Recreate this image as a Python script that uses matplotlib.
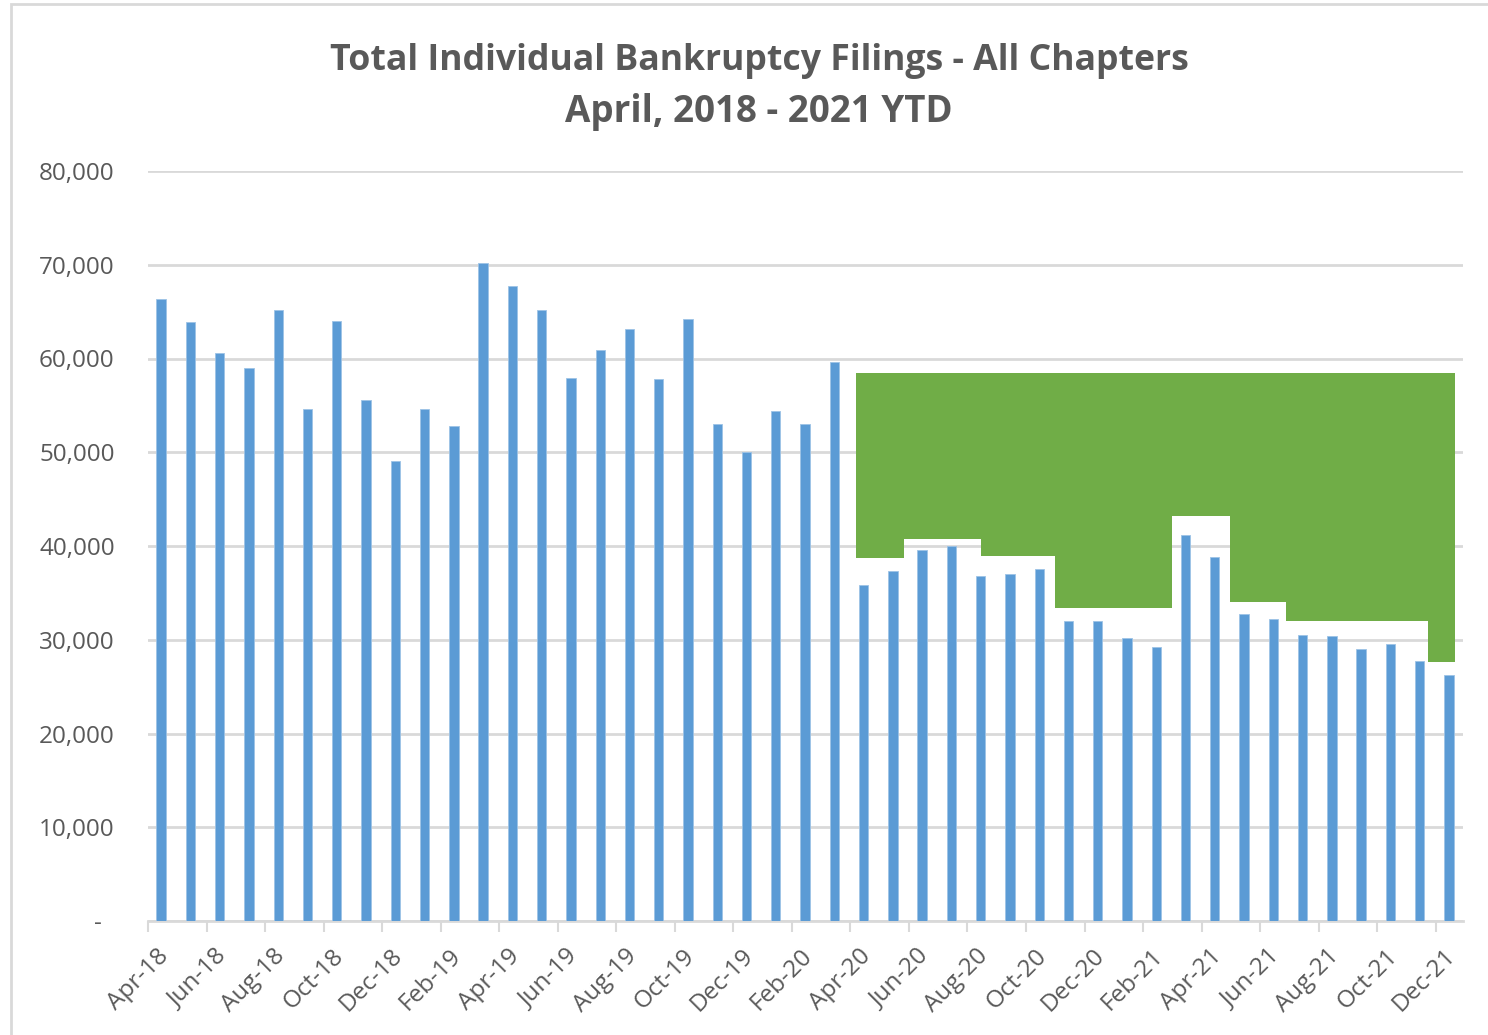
import numpy as np
import matplotlib
matplotlib.use('Agg')
import matplotlib.pyplot as plt
from matplotlib.transforms import offset_copy
from matplotlib.patches import Rectangle

# Monthly filings, Apr-18 .. Dec-21
months = ['Apr-18', 'May-18', 'Jun-18', 'Jul-18', 'Aug-18', 'Sep-18', 'Oct-18', 'Nov-18', 'Dec-18',
          'Jan-19', 'Feb-19', 'Mar-19', 'Apr-19', 'May-19', 'Jun-19', 'Jul-19', 'Aug-19', 'Sep-19',
          'Oct-19', 'Nov-19', 'Dec-19', 'Jan-20', 'Feb-20', 'Mar-20', 'Apr-20', 'May-20', 'Jun-20',
          'Jul-20', 'Aug-20', 'Sep-20', 'Oct-20', 'Nov-20', 'Dec-20', 'Jan-21', 'Feb-21', 'Mar-21',
          'Apr-21', 'May-21', 'Jun-21', 'Jul-21', 'Aug-21', 'Sep-21', 'Oct-21', 'Nov-21', 'Dec-21']
filings = [66400, 63900, 60600, 58950, 65200, 54650, 64050, 55600, 49050,
           54650, 52850, 70150, 67700, 65200, 57950, 60950, 63100, 57800,
           64200, 53000, 50000, 54450, 53000, 59600, 35850, 37300, 39600,
           39950, 36750, 37000, 37600, 32000, 32000, 30200, 29200, 41150,
           38800, 32800, 32200, 30500, 30350, 29000, 29500, 27700, 26200]

# green overlay block (step edges in month index, lower edge levels)
green_edges = [23.74, 25.38, 28.01, 30.54, 34.54, 36.52, 38.43, 43.29, 44.21]
green_levels = [38750, 40750, 38970, 33400, 43200, 34050, 32000, 27630]
green_top = 58500

yticks = [0, 10000, 20000, 30000, 40000, 50000, 60000, 70000, 80000]
ylabels = ['-  ', '10,000', '20,000', '30,000', '40,000', '50,000', '60,000', '70,000', '80,000']

text_col = '#595959'
grid_col = '#D9D9D9'
plt.rcParams['font.family'] = ['Open Sans', 'DejaVu Sans']

fig = plt.figure(figsize=(14.88, 10.35), dpi=100)
ax = fig.add_axes([148 / 1488, 1 - 921 / 1035, (1463 - 148) / 1488, (921 - 171) / 1035])

x = np.arange(len(months))
ax.bar(x, filings, width=0.32, color='#5B9BD5', edgecolor='#9DC3E6', linewidth=0.6, zorder=3)

lv = green_levels + [green_levels[-1]]
ax.fill_between(green_edges, lv, green_top, step='post', color='#70AD47', linewidth=0, zorder=2)

ax.set_ylim(0, 80000)
ax.set_xlim(-0.45, 44.48)
ax.set_yticks(yticks)
ax.set_yticklabels(ylabels, color=text_col, fontsize=17.5)
ax.tick_params(axis='y', length=0, pad=24)
ax.grid(axis='y', color=grid_col, linewidth=2, zorder=0)
ax.set_axisbelow(True)

# tick marks every two months, on the left edge of each month slot
tick_pos = x[::2] - 0.45
ax.set_xticks(tick_pos)
ax.set_xticklabels([])
ax.tick_params(axis='x', length=8, width=1.5, color=grid_col, direction='out')

lab_tr = offset_copy(ax.get_xaxis_transform(), fig=fig, x=0, y=-23, units='dots')
for i in x[::2]:
    ax.text(i - 0.17, 0, months[i], transform=lab_tr, rotation=45, rotation_mode='anchor',
            ha='right', va='top', fontsize=17.5, color=text_col)

for s in ['top', 'right', 'left']:
    ax.spines[s].set_visible(False)
ax.spines['bottom'].set_color(grid_col)
ax.spines['bottom'].set_linewidth(2)

fig.text(759 / 1488, 1 - 61 / 1035, 'Total Individual Bankruptcy Filings - All Chapters',
         ha='center', va='center', fontsize=25.7, fontweight='bold', color=text_col)
fig.text(759 / 1488, 1 - 112 / 1035, 'April, 2018 - 2021 YTD',
         ha='center', va='center', fontsize=26.5, fontweight='bold', color=text_col)

# chart border
fig.patches.append(Rectangle((11 / 1488, -0.01), 1.0, 1.01 - 4 / 1035, transform=fig.transFigure,
                             fill=False, edgecolor=grid_col, linewidth=2))

fig.savefig('out.png', dpi=100)
